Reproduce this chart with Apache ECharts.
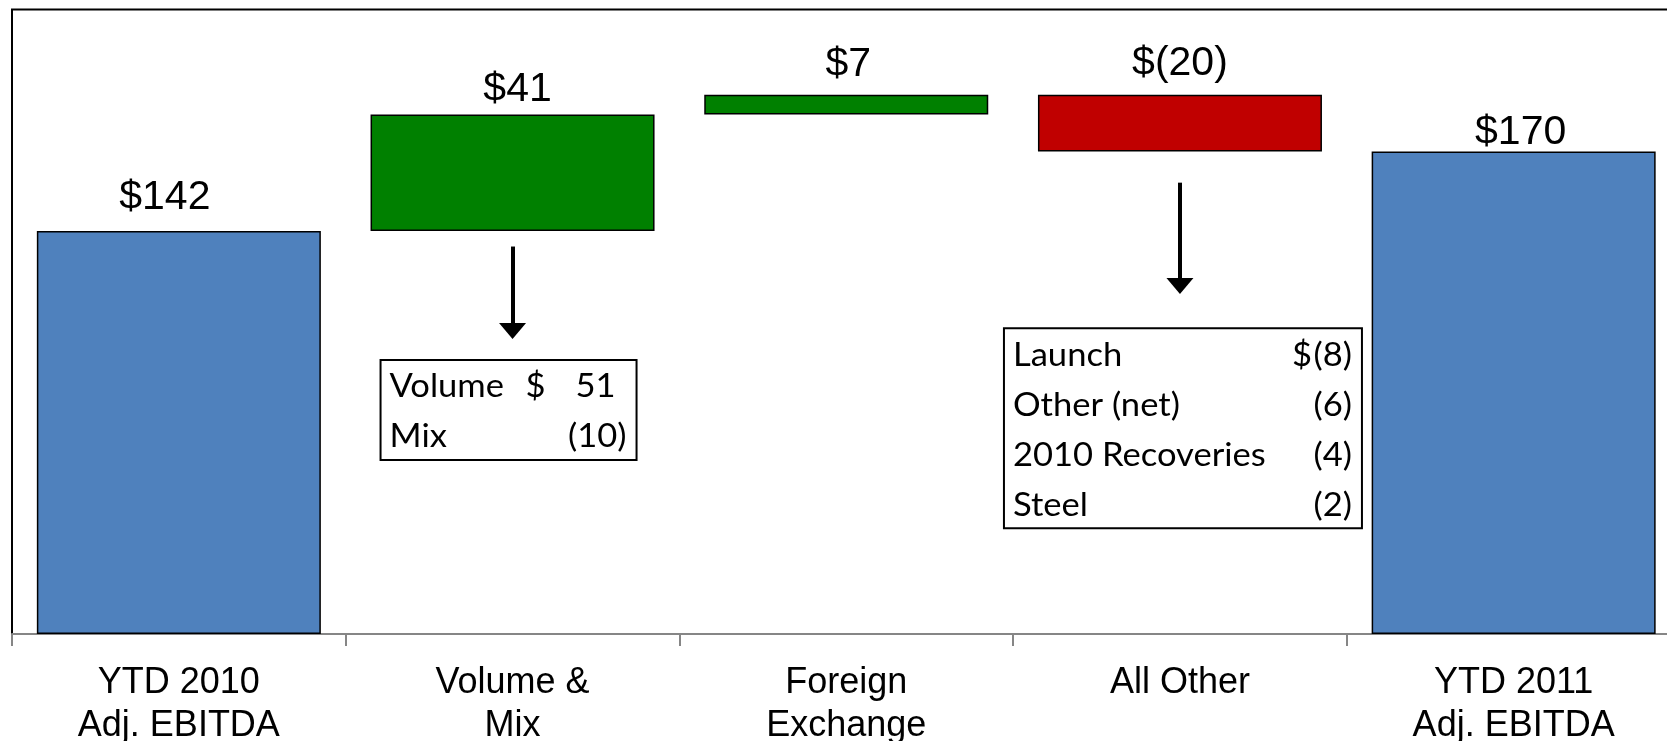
<!DOCTYPE html>
<html>
<head>
<meta charset="utf-8">
<script src="https://cdn.jsdelivr.net/npm/echarts@6/dist/echarts.min.js"></script>
<style>
  html, body { margin: 0; padding: 0; background: #fff; }
  #chart { width: 1667px; height: 741px; }
</style>
</head>
<body>
<div id="chart"></div>
<script>
const categories = ['YTD 2010\nAdj. EBITDA', 'Volume &\nMix', 'Foreign\nExchange', 'All Other', 'YTD 2011\nAdj. EBITDA'];
const changes = [142, 41, 7, -20, 170];
const isTotal = [true, false, false, false, true];
const valueLabels = ['$142', '$41', '$7', '$(20)', '$170'];

const volumeRows = [['Volume', '$', '51'], ['Mix', '', '(10)']];
const otherRows = [['Launch', '$', '(8)'], ['Other (net)', '', '(6)'], ['2010 Recoveries', '', '(4)'], ['Steel', '', '(2)']];

// arrow: category index, start value, arrowhead value
const arrows = [[1, 136.5, 106.7], [3, 159, 122.6]];

// waterfall: invisible base + visible piece
const base = [];
const pieces = [];
let running = 0;
changes.forEach((v, i) => {
  if (isTotal[i]) {
    base.push(0); pieces.push(v); running = v;
  } else if (v >= 0) {
    base.push(running); pieces.push(v); running += v;
  } else {
    running += v; base.push(running); pieces.push(-v);
  }
});

const colorFor = (i) => isTotal[i] ? '#4f81bd' : (changes[i] >= 0 ? '#008000' : '#c00000');
const labelNudge = [[-14, -13], [5, -4], [2, -9], [0, -10], [7, 2]];

const chart = echarts.init(document.getElementById('chart'));

chart.setOption({
  animation: false,
  grid: {
    left: 12, top: 9.5, bottom: 107, width: 1668.5,
    show: true, borderColor: '#000', borderWidth: 2,
    containLabel: false, outerBoundsMode: 'none'
  },
  xAxis: {
    type: 'category',
    data: categories,
    axisLine: { lineStyle: { color: '#868686', width: 2 } },
    axisTick: { show: true, alignWithLabel: false, length: 12, lineStyle: { color: '#868686', width: 2 } },
    axisLabel: {
      interval: 0, margin: 28, color: '#000',
      fontFamily: 'Liberation Sans', fontSize: 36, lineHeight: 43
    }
  },
  yAxis: { type: 'value', min: 0, max: 220, show: false, splitLine: { show: false } },
  series: [
    {
      type: 'bar', stack: 'w', barWidth: 284, silent: true,
      itemStyle: { color: 'transparent' },
      data: base
    },
    {
      type: 'bar', stack: 'w', barWidth: 284,
      itemStyle: { borderColor: '#000', borderWidth: 1.5 },
      label: {
        show: true, position: 'top', distance: 0, color: '#000',
        fontFamily: 'Liberation Sans', fontSize: 41, lineHeight: 41,
        formatter: (p) => valueLabels[p.dataIndex]
      },
      data: pieces.map((v, i) => ({
        value: v,
        itemStyle: { color: colorFor(i) },
        label: { offset: labelNudge[i] }
      })),
      markLine: {
        silent: true,
        symbol: 'none',
        label: { show: false },
        lineStyle: { color: '#000', width: 4, type: 'solid' },
        data: arrows.map((a) => [{ coord: [a[0], a[1]] }, { coord: [a[0], a[2]] }])
      },
      markPoint: {
        silent: true,
        symbol: 'triangle',
        symbolSize: [27, 16],
        symbolRotate: 180,
        itemStyle: { color: '#000' },
        label: { show: false },
        data: arrows.map((a) => ({ coord: [a[0], a[2]] }))
      }
    }
  ]
});

function box(rows, catIndex, topValue, width, dollarX, nudgeX) {
  const pt = chart.convertToPixel({ xAxisIndex: 0, yAxisIndex: 0 }, [catIndex, topValue]);
  const left = pt[0] + nudgeX - width / 2;
  const top = pt[1];
  const right = left + width;
  const font = { fontFamily: 'Lato', fontSize: 32, fill: '#000' };
  const children = [{
    type: 'rect',
    shape: { x: left, y: top, width: width, height: rows.length * 50 },
    style: { fill: '#fff', stroke: '#000', lineWidth: 2 }
  }];
  const txt = (x, y, text, align) => ({
    type: 'text', x: x, y: y, scaleX: 1.08,
    style: Object.assign({ text: text, align: align, verticalAlign: 'middle' }, font)
  });
  rows.forEach((r, i) => {
    const y = top + 27 + 50 * i;
    children.push(txt(left + 9, y, r[0], 'left'));
    if (r[1]) children.push(txt(left + dollarX, y, r[1], 'left'));
    const paren = r[2].endsWith(')');
    children.push(txt(right - (paren ? 10 : 21), y, r[2], 'right'));
  });
  return { type: 'group', children: children };
}

chart.setOption({
  graphic: [
    box(volumeRows, 1, 96.5, 256, 145, -4),
    box(otherRows, 3, 107.7, 358, 288, 3)
  ]
});
</script>
</body>
</html>
